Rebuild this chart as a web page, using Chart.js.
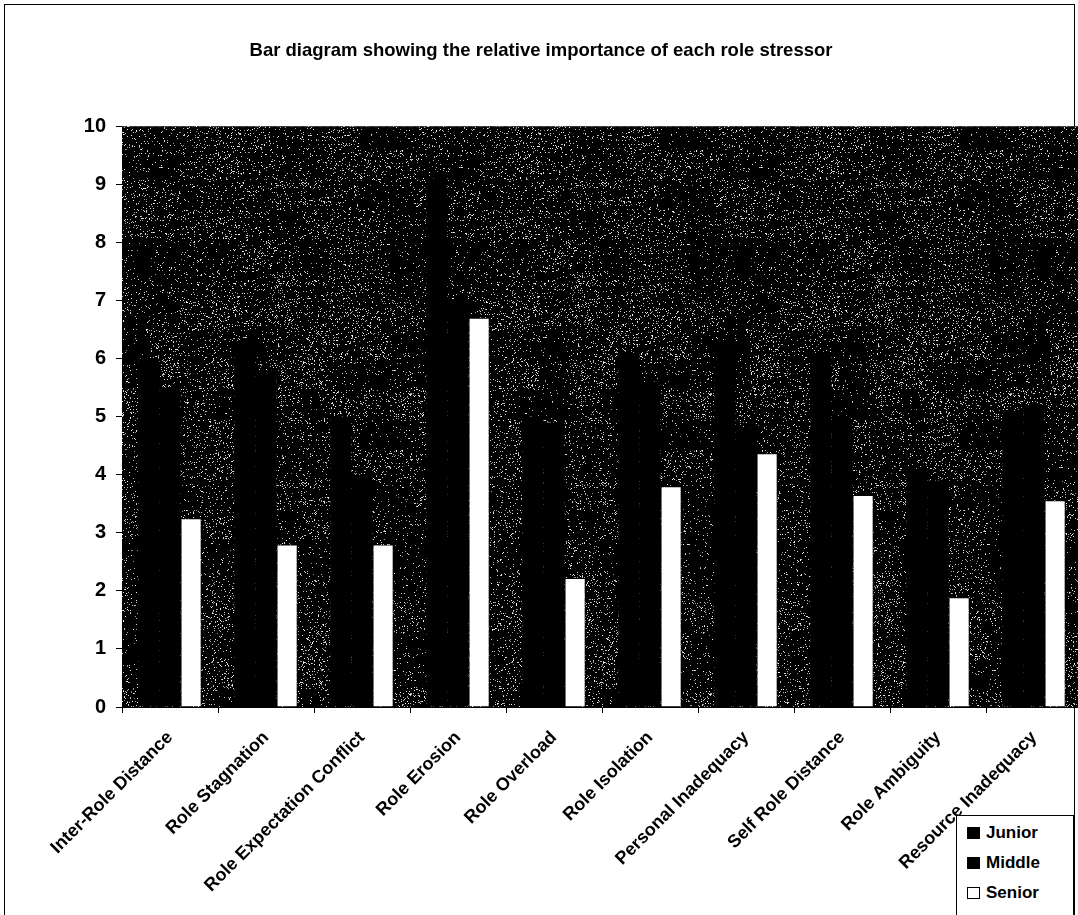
<!DOCTYPE html>
<html>
<head>
<meta charset="utf-8">
<title>Role stressors</title>
<script src="https://cdn.jsdelivr.net/npm/chart.js@4.4.1/dist/chart.umd.min.js"></script>
<style>
  html, body { margin: 0; padding: 0; background: #fff; overflow: hidden; }
  #wrap { position: relative; width: 1078px; height: 915px; overflow: hidden; }
  #frame { position: absolute; left: 4px; top: 4px; width: 1071px; height: 912px; border: 1px solid #000; box-sizing: border-box; }
  #chart { position: absolute; left: 0; top: 0; }
  #legend {
    position: absolute; left: 956px; top: 815px; width: 118px; height: 102px;
    border: 1px solid #000; background: #fff; box-sizing: border-box;
    font: bold 17px "Liberation Sans", Arial, sans-serif; color: #000;
    padding-top: 2px;
  }
  #legend .item { display: flex; align-items: center; height: 30px; padding-left: 10px; }
  #legend .sw { width: 13px; height: 12px; box-sizing: border-box; border: 1px solid #000; margin-right: 6px; }
</style>
</head>
<body>
<div id="wrap">
  <div id="frame"></div>
  <canvas id="chart" width="1090" height="915"></canvas>
  <div id="legend"></div>
</div>
<script>
// Role stressors on the category axis
const categories = [
  'Inter-Role Distance', 'Role Stagnation', 'Role Expectation Conflict',
  'Role Erosion', 'Role Overload', 'Role Isolation', 'Personal Inadequacy',
  'Self Role Distance', 'Role Ambiguity', 'Resource Inadequacy'
];
// Scores by management level
const juniorScores = [6.0, 6.3, 5.0, 9.1, 5.0, 6.1, 6.3, 6.1, 4.1, 5.1];
const middleScores = [5.5, 5.8, 4.0, 7.0, 4.9, 5.6, 4.8, 4.95, 3.9, 5.2];
const seniorScores = [3.25, 2.8, 2.8, 6.7, 2.22, 3.8, 4.37, 3.65, 1.89, 3.56];
// Value axis ticks
const yTicks = [0, 1, 2, 3, 4, 5, 6, 7, 8, 9, 10];

const FONT = '"Liberation Sans", Arial, sans-serif';

// Dark, speckled fill for the plotting area
function makeSpeckle() {
  const c = document.createElement('canvas');
  c.width = 300; c.height = 300;
  const g = c.getContext('2d');
  g.fillStyle = '#000';
  g.fillRect(0, 0, c.width, c.height);
  const img = g.getImageData(0, 0, c.width, c.height);
  let s = 987654321;
  const next = () => { s = (s * 1103515245 + 12345) & 0x7fffffff; return s / 0x7fffffff; };
  // coarse density field so the grain clumps a little
  const cell = 30, cols = c.width / cell + 1, rows = c.height / cell + 1;
  const dens = [];
  for (let i = 0; i < cols * rows; i++) dens.push(0.02 + next() * 0.10);
  for (let y = 0; y < c.height; y++) {
    for (let x = 0; x < c.width; x++) {
      const cx = Math.floor(x / cell), cy = Math.floor(y / cell);
      const d = dens[(cy % (rows - 1)) * cols + (cx % (cols - 1))];
      if (next() < d) {
        const i = (y * c.width + x) * 4;
        const v = 140 + Math.floor(next() * 115);
        img.data[i] = v; img.data[i + 1] = v; img.data[i + 2] = v;
      }
    }
  }
  g.putImageData(img, 0, 0);
  return c;
}

const speckle = makeSpeckle();
const plotBackground = {
  id: 'plotBackground',
  beforeDatasetsDraw(chart) {
    const { ctx, chartArea: a } = chart;
    ctx.save();
    ctx.fillStyle = ctx.createPattern(speckle, 'repeat');
    ctx.fillRect(a.left, a.top, a.right - a.left, a.bottom - a.top);
    // dashed top edge of the plotting area
    ctx.strokeStyle = '#444';
    ctx.setLineDash([4, 3]);
    ctx.lineWidth = 1;
    ctx.beginPath();
    ctx.moveTo(a.left, a.top + 0.5);
    ctx.lineTo(a.right, a.top + 0.5);
    ctx.stroke();
    ctx.restore();
  }
};

const chart = new Chart(document.getElementById('chart'), {
  type: 'bar',
  data: {
    labels: categories,
    datasets: [
      { label: 'Junior', data: juniorScores, backgroundColor: '#000', borderColor: '#000', borderWidth: 0 },
      { label: 'Middle', data: middleScores, backgroundColor: '#000', borderColor: '#000', borderWidth: 0 },
      { label: 'Senior', data: seniorScores, backgroundColor: '#fff', borderColor: '#000', borderWidth: 1 }
    ]
  },
  options: {
    responsive: false,
    animation: false,
    devicePixelRatio: 1,
    layout: { padding: { left: 0, right: 8, top: 0, bottom: 0 } },
    datasets: { bar: { categoryPercentage: 0.66, barPercentage: 1.0 } },
    plugins: {
      legend: { display: false },
      tooltip: { enabled: false },
      title: {
        display: true,
        text: 'Bar diagram showing the relative importance of each role stressor',
        color: '#000',
        font: { family: FONT, size: 18.5, weight: 'bold', lineHeight: 1.2 },
        padding: { top: 40, bottom: 64 }
      }
    },
    scales: {
      x: {
        afterFit(axis) { axis.height = 208; },
        grid: { display: true, offset: true, drawOnChartArea: false, tickLength: 6, color: '#000', lineWidth: 1 },
        border: { display: true, color: '#000', width: 1, dash: [4, 2] },
        ticks: {
          color: '#000', maxRotation: 45, minRotation: 45, autoSkip: false, padding: 14,
          font: { family: FONT, size: 18, weight: 'bold' }
        }
      },
      y: {
        min: 0, max: 10,
        afterFit(axis) { axis.width = 122; },
        afterBuildTicks(axis) { axis.ticks = yTicks.map(v => ({ value: v })); },
        grid: { display: true, drawOnChartArea: false, tickLength: 6, color: '#000' },
        border: { display: true, color: '#000', width: 1 },
        ticks: {
          color: '#000', padding: 10,
          font: { family: FONT, size: 20, weight: 'bold' }
        }
      }
    }
  },
  plugins: [plotBackground]
});

// Legend box built from the dataset definitions
const legend = document.getElementById('legend');
chart.data.datasets.forEach(ds => {
  const row = document.createElement('div');
  row.className = 'item';
  const sw = document.createElement('span');
  sw.className = 'sw';
  sw.style.background = ds.backgroundColor;
  const tx = document.createElement('span');
  tx.textContent = ds.label;
  row.appendChild(sw);
  row.appendChild(tx);
  legend.appendChild(row);
});
</script>
</body>
</html>
